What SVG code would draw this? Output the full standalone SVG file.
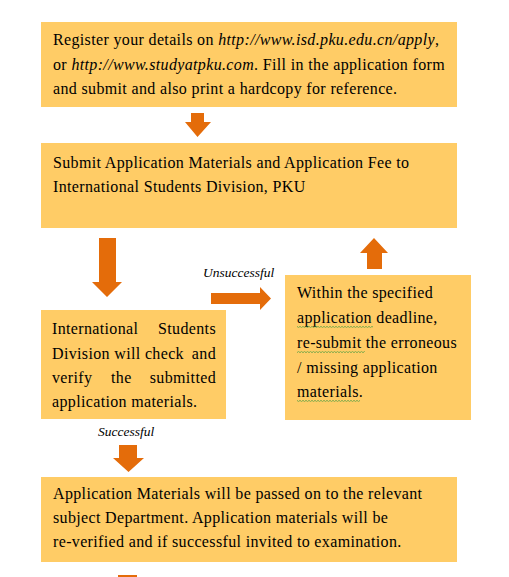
<svg xmlns="http://www.w3.org/2000/svg" width="509" height="577" viewBox="0 0 509 577">
<style>
.box{fill:#FFCC66;}
.arr{fill:#E46C0A;}
.t{font-family:"Liberation Serif","Times New Roman",serif;font-size:16px;letter-spacing:0.35px;fill:#000;}
.i{font-style:italic;}
.s{font-family:"Liberation Serif","Times New Roman",serif;font-size:13.5px;font-style:italic;fill:#000;}
.wv{fill:none;stroke:#3c9a3c;stroke-width:0.8;}
</style>
<defs>
<pattern id="wave" x="0" y="0" width="3" height="2" patternUnits="userSpaceOnUse">
<path d="M0 0.3 L1.5 1.7 L3 0.3" fill="none" stroke="#3c9a3c" stroke-width="0.7"/>
</pattern>
</defs>
<rect width="509" height="577" fill="#fff"/>
<g id="node-register">
<rect class="box" x="41" y="22" width="416" height="85"/>
<text class="t" x="53" y="45">Register your details on <tspan class="i">http://www.isd.pku.edu.cn/apply</tspan>,</text>
<text class="t" x="53" y="70">or <tspan class="i">http://www.studyatpku.com</tspan>. Fill in the application form</text>
<text class="t" x="53" y="94">and submit and also print a hardcopy for reference.</text>
</g>
<g id="node-submit">
<rect class="box" x="41" y="143" width="416" height="85"/>
<text class="t" x="53" y="168">Submit Application Materials and Application Fee to</text>
<text class="t" x="53" y="192">International Students Division, PKU</text>
</g>
<g id="node-check">
<rect class="box" x="41" y="310" width="185" height="109"/>
<text class="t" x="52" y="334">International</text>
<text class="t" x="216" y="334" text-anchor="end">Students</text>
<text class="t" x="52" y="359">Division will check</text>
<text class="t" x="216" y="359" text-anchor="end">and</text>
<text class="t" x="52" y="383">verify</text>
<text class="t" x="111" y="383">the</text>
<text class="t" x="216" y="383" text-anchor="end">submitted</text>
<text class="t" x="52" y="407">application materials.</text>
</g>
<g id="node-resubmit">
<rect class="box" x="285" y="275" width="186" height="145"/>
<text class="t" x="297" y="298">Within the specified</text>
<text class="t" x="297" y="323">application deadline,</text>
<text class="t" x="297" y="348">re-submit the erroneous</text>
<text class="t" x="297" y="373">/ missing application</text>
<text class="t" x="297" y="397">materials.</text>
<rect x="297" y="326" width="76" height="2" fill="url(#wave)"/>
<rect x="297" y="351" width="68" height="2" fill="url(#wave)"/>
<rect x="297" y="400" width="63" height="2" fill="url(#wave)"/>
</g>
<g id="node-department">
<rect class="box" x="41" y="477" width="416" height="85"/>
<text class="t" x="53" y="499">Application Materials will be passed on to the relevant</text>
<text class="t" x="53" y="523">subject Department. Application materials will be</text>
<text class="t" x="53" y="547">re-verified and if successful invited to examination.</text>
</g>
<g id="connectors">
<polygon class="arr" points="191,113 204,113 204,122 211,122 197.5,137 185,122 191,122"/>
<polygon class="arr" points="99,238 116,238 116,282 122,282 107,297 92,282 99,282"/>
<polygon class="arr" points="211,293 260,293 260,287 271,298.5 260,310 260,304 211,304"/>
<polygon class="arr" points="367,269 382,269 382,253 388,253 374,238 360,253 367,253"/>
<polygon class="arr" points="119,445 137,445 137,458 144,458 128.5,472 113,458 119,458"/>
<rect class="arr" x="118" y="575" width="19" height="2"/>
<text class="s" x="203" y="277">Unsuccessful</text>
<text class="s" x="98" y="436">Successful</text>
</g>
</svg>
